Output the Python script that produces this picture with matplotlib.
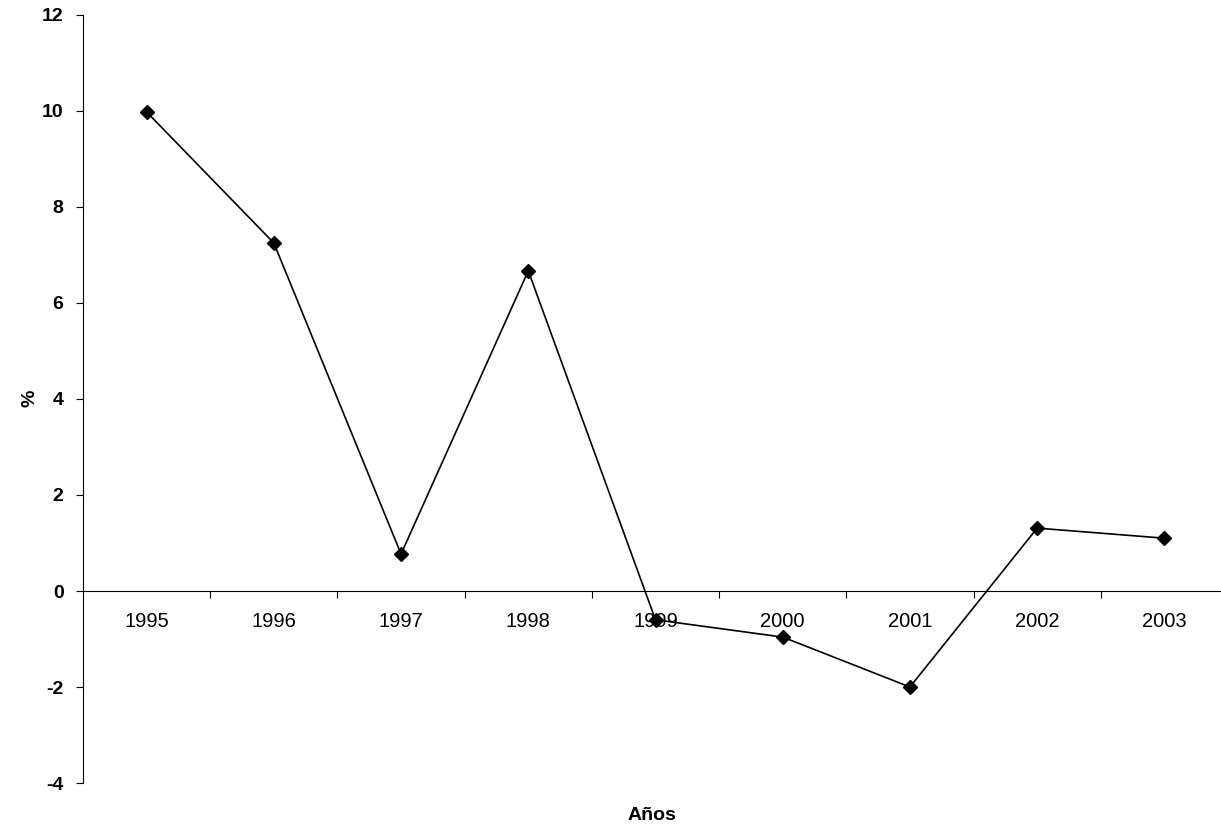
import numpy as np
import matplotlib.pyplot as plt
from matplotlib.ticker import FixedLocator, NullFormatter

# Data
years = ['1995', '1996', '1997', '1998', '1999', '2000', '2001', '2002', '2003']
values = [9.98, 7.25, 0.77, 6.67, -0.60, -0.96, -2.0, 1.31, 1.10]

plt.rcParams['font.family'] = ['Liberation Sans', 'DejaVu Sans']
plt.rcParams['axes.unicode_minus'] = False

fig = plt.figure(figsize=(12.21, 8.31), dpi=100)
ax = fig.add_axes([83 / 1221, 1 - 783 / 831, (1228 - 83) / 1221, (783 - 15) / 831])

x = np.arange(len(years))
ax.plot(x, values, color='black', linewidth=1.2, marker='D', markersize=7,
        markerfacecolor='black', markeredgecolor='black')

ax.set_xlim(-0.5, len(years) - 0.5)
ax.set_ylim(-4, 12)
ax.set_yticks(np.arange(-4, 13, 2))
ax.tick_params(axis='y', direction='out', length=5, width=0.8, labelsize=14, pad=9)
for lbl in ax.get_yticklabels():
    lbl.set_fontweight('bold')

# category axis crossing at zero, ticks between categories
ax.spines['top'].set_visible(False)
ax.spines['right'].set_visible(False)
ax.spines['bottom'].set_position(('data', 0))
ax.spines['bottom'].set_linewidth(0.8)
ax.spines['left'].set_linewidth(0.8)
ax.set_xticks(x)
ax.set_xticklabels(years)
ax.tick_params(axis='x', which='major', length=0, labelsize=14.5, pad=15)
ax.xaxis.set_minor_locator(FixedLocator(np.arange(0.5, len(years) - 0.5, 1)))
ax.xaxis.set_minor_formatter(NullFormatter())
ax.tick_params(axis='x', which='minor', direction='out', length=5, width=0.8)

fig.text(30 / 1221, 1 - 398 / 831, '%', fontsize=14, fontweight='bold',
         rotation=90, ha='center', va='center')
fig.text(652 / 1221, 1 - 815 / 831, 'Años', fontsize=14, fontweight='bold',
         ha='center', va='center')

fig.savefig('out.png', dpi=100)
